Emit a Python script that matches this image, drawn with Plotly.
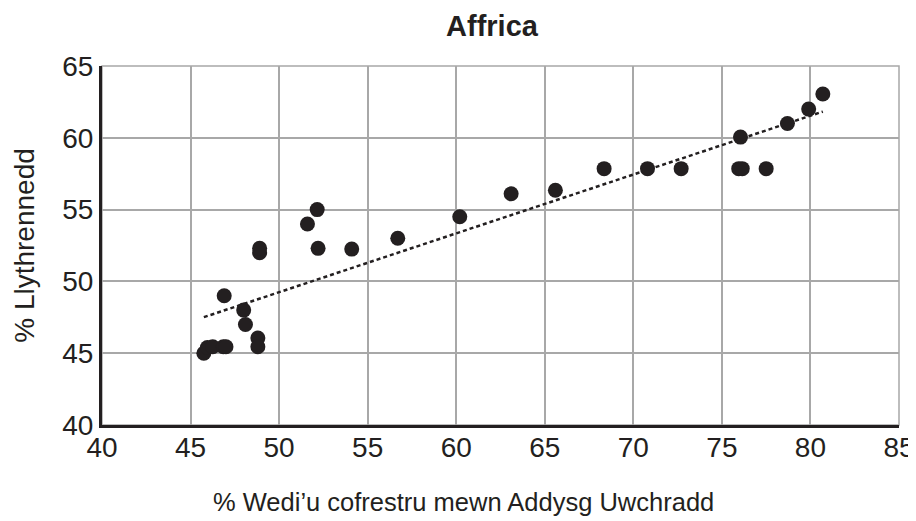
import numpy as np
import plotly.graph_objects as go

# % enrolled in secondary education
enrol = [45.75, 45.95, 46.25, 46.85, 47.0, 46.9, 48.0, 48.1, 48.8, 48.8, 48.9, 48.9,
         51.6, 52.15, 52.2, 54.1, 56.7, 60.2, 63.1, 65.6, 68.35, 70.8, 72.7,
         75.95, 76.15, 76.05, 77.5, 78.7, 79.9, 80.7]
# % literacy
literacy = [45.0, 45.4, 45.45, 45.45, 45.45, 49.0, 48.0, 47.0, 46.05, 45.45, 52.0, 52.3,
            54.0, 55.0, 52.3, 52.25, 53.0, 54.5, 56.1, 56.35, 57.85, 57.85, 57.85,
            57.85, 57.85, 60.05, 57.85, 61.0, 62.0, 63.05]

x_ticks = [40, 45, 50, 55, 60, 65, 70, 75, 80, 85]
y_ticks = [40, 45, 50, 55, 60, 65]

title_text = "Affrica"
x_title = "% Wedi’u cofrestru mewn Addysg Uwchradd"
y_title = "% Llythrennedd"

ink = "#231f20"
grid = "#a8a8a8"
font_main = "Liberation Sans, Arial, sans-serif"

xs = np.array(enrol)
ys = np.array(literacy)
m, c = np.polyfit(xs, ys, 1)
fit_x = [xs.min(), xs.max()]
fit_y = [m * v + c for v in fit_x]

fig = go.Figure()
fig.add_trace(go.Scatter(x=fit_x, y=fit_y, mode="lines",
                         line=dict(color=ink, width=2.5, dash="4px,3px"),
                         hoverinfo="skip", showlegend=False))
fig.add_trace(go.Scatter(x=enrol, y=literacy, mode="markers",
                         marker=dict(color=ink, size=15, line=dict(width=0)),
                         showlegend=False))

fig.update_layout(
    width=908, height=513,
    margin=dict(l=94, r=17, t=58, b=96),
    paper_bgcolor="white", plot_bgcolor="white",
    title=dict(text="<b>" + title_text + "</b>", x=0.533, xanchor="center", y=0.966, yanchor="middle",
               font=dict(family=font_main, size=29, color=ink)),
    font=dict(family=font_main, color=ink),
)
# light frame on the top and right edges of the plotting area
fig.add_shape(type="rect", xref="x domain", yref="y domain", x0=0, x1=1, y0=0, y1=1,
              line=dict(color=grid, width=1.5), layer="below")
fig.add_annotation(text=x_title, xref="paper", yref="paper", x=0.453, y=-0.214,
                   xanchor="center", yanchor="middle", showarrow=False,
                   font=dict(family=font_main, size=25.5, color=ink))
fig.update_xaxes(range=[40, 85], tickvals=x_ticks, ticktext=[str(v) for v in x_ticks],
                 showgrid=True, gridcolor=grid, gridwidth=1.5,
                 showline=True, linecolor=ink, linewidth=3, zeroline=False,
                 ticks="", tickfont=dict(size=28, color=ink), automargin=False,
                 ticklabeloverflow="allow", ticklabelstandoff=-5)
fig.update_yaxes(range=[40, 65], tickvals=y_ticks, ticktext=[str(v) for v in y_ticks],
                 showgrid=True, gridcolor=grid, gridwidth=1.5,
                 showline=True, linecolor=ink, linewidth=3, zeroline=False,
                 ticks="", tickfont=dict(size=28, color=ink), automargin=False,
                 ticklabeloverflow="allow",
                 title=dict(text=y_title, font=dict(size=28, color=ink), standoff=20))

fig.write_html("out.html")
